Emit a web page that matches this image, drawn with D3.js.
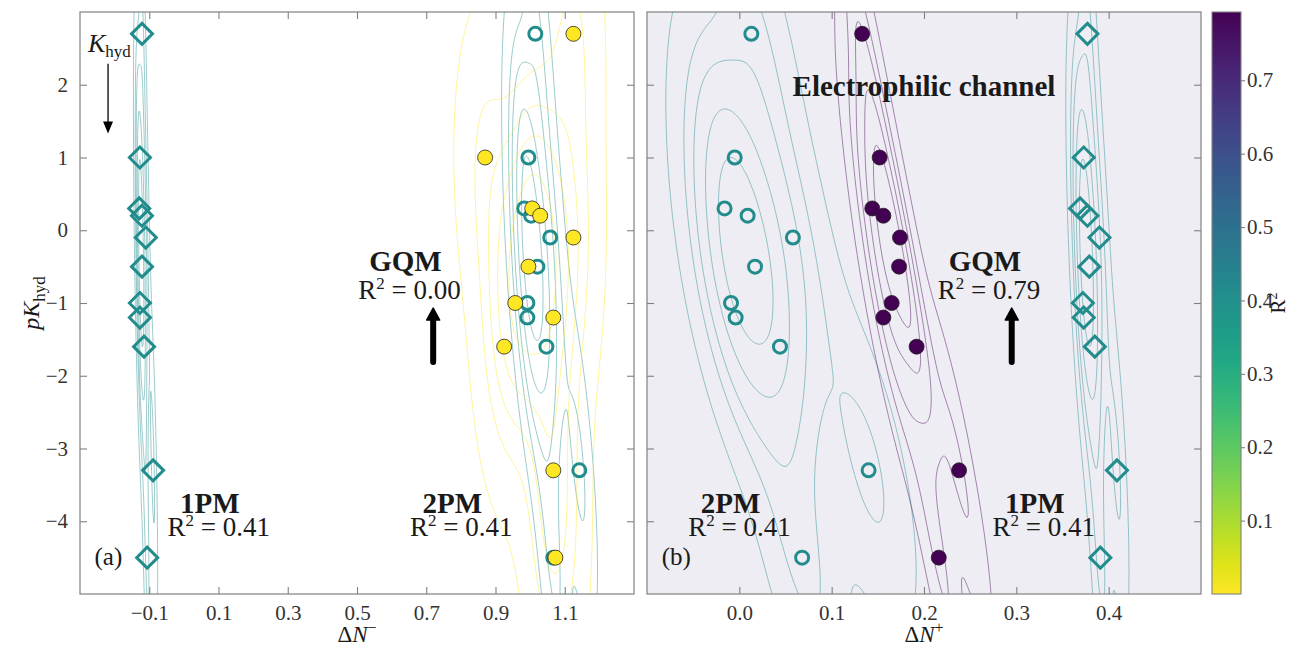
<!DOCTYPE html>
<html lang="en">
<head>
<meta charset="utf-8">
<title>pK_hyd vs Fukui charge transfer</title>
<script src="https://cdnjs.cloudflare.com/ajax/libs/d3/7.8.5/d3.min.js"></script>
<style>
body { margin: 0; background: #fff; }
svg text { font-family: "Liberation Serif", "DejaVu Serif", serif; fill: #1a1a1a; }
.axis path { display: none; }
.axis line { stroke: #808080; stroke-width: 1.1; }
.axis text { font-size: 21px; fill: #333; }
</style>
</head>
<body>
<script>
// pK_hyd of the 11 compounds (same order in every series below)
var pK = [2.7, 1.0, 0.3, 0.2, -0.1, -0.5, -1.0, -1.2, -1.6, -3.3, -4.5];

// panel (a): ΔN- per model
var dNminus_1PM = [-0.121, -0.127, -0.129, -0.121, -0.110, -0.121, -0.127, -0.127, -0.115, -0.089, -0.106];
var dNminus_2PM = [1.015, 0.995, 0.983, 1.003, 1.058, 1.021, 0.992, 0.992, 1.047, 1.142, 1.067];
var dNminus_GQM = [1.125, 0.870, 1.006, 1.029, 1.125, 0.995, 0.957, 1.067, 0.925, 1.067, 1.073];

// panel (b): ΔN+ per model
var dNplus_1PM = [0.377, 0.373, 0.369, 0.377, 0.390, 0.379, 0.372, 0.373, 0.385, 0.409, 0.391];
var dNplus_2PM = [0.013, -0.005, -0.016, 0.009, 0.058, 0.017, -0.009, -0.004, 0.044, 0.140, 0.068];
var dNplus_GQM = [0.133, 0.152, 0.144, 0.156, 0.174, 0.173, 0.165, 0.156, 0.192, 0.238, 0.216];

// R² of each model fit
var r2_1PM = 0.41, r2_2PM = 0.41, r2_GQM_minus = 0.00, r2_GQM_plus = 0.793;

var xTicksA = [-0.1, 0.1, 0.3, 0.5, 0.7, 0.9, 1.1];
var xTicksB = [0.0, 0.1, 0.2, 0.3, 0.4];
var yTicks = [-4, -3, -2, -1, 0, 1, 2];
var cbTicks = [0.1, 0.2, 0.3, 0.4, 0.5, 0.6, 0.7];

var W = 1293, H = 649;
var pTop = 12, pBottom = 594;
var svg = d3.select("body").append("svg").attr("width", W).attr("height", H);

var y = d3.scaleLinear().domain([-5, 3]).range([pBottom, pTop]);
var xA = d3.scaleLinear().domain([-0.3, 1.3]).range([80, 634]);
var xB = d3.scaleLinear().domain([-0.1, 0.5]).range([647, 1201]);

var allR2 = [r2_1PM, r2_2PM, r2_GQM_minus, r2_GQM_plus];
var cdom = d3.extent(allR2);
var color = d3.scaleSequential(function(t) { return d3.interpolateViridis(1 - t); }).domain(cdom);

// gaussian kde (scott bandwidth, full covariance) + iso-proportion contour levels
var nLevels = 6, thresh = 0.05;
function kdeContours(xs, ys) {
  var n = xs.length, mx = d3.mean(xs), my = d3.mean(ys);
  var sxx = 0, syy = 0, sxy = 0;
  for (var i = 0; i < n; i++) {
    var ddx = xs[i] - mx, ddy = ys[i] - my;
    sxx += ddx * ddx; syy += ddy * ddy; sxy += ddx * ddy;
  }
  sxx /= (n - 1); syy /= (n - 1); sxy /= (n - 1);
  var f2 = Math.pow(n, -1 / 3);
  var a = sxx * f2, b = sxy * f2, c = syy * f2;
  var det = a * c - b * b;
  var ia = c / det, ib = -b / det, ic = a / det;
  var bwx = Math.sqrt(a), bwy = Math.sqrt(c);
  var G = 200;
  var x0 = d3.min(xs) - 3 * bwx, x1 = d3.max(xs) + 3 * bwx;
  var y0 = d3.min(ys) - 3 * bwy, y1 = d3.max(ys) + 3 * bwy;
  var sx = (x1 - x0) / (G - 1), sy = (y1 - y0) / (G - 1);
  var vals = new Float64Array(G * G);
  for (var j = 0; j < G; j++) {
    var gy = y0 + j * sy;
    for (var k = 0; k < G; k++) {
      var gx = x0 + k * sx, s = 0;
      for (var p = 0; p < n; p++) {
        var u = gx - xs[p], v = gy - ys[p];
        s += Math.exp(-0.5 * (ia * u * u + 2 * ib * u * v + ic * v * v));
      }
      vals[j * G + k] = s;
    }
  }
  var sorted = Array.from(vals).sort(function(p, q) { return q - p; });
  var total = d3.sum(sorted), cum = new Float64Array(sorted.length), acc = 0;
  for (var m = 0; m < sorted.length; m++) { acc += sorted[m]; cum[m] = acc / total; }
  var th = [];
  for (var l = 0; l < nLevels - 1; l++) {
    var q = thresh + l * (1 - thresh) / (nLevels - 1), target = 1 - q;
    var idx = d3.bisectLeft(cum, target);
    th.push(sorted[Math.min(idx, sorted.length - 1)]);
  }
  var cs = d3.contours().size([G, G]).thresholds(th)(vals);
  return { contours: cs, x0: x0, y0: y0, sx: sx, sy: sy };
}

function drawKde(g, xs, xscale, col) {
  var k = kdeContours(xs, pK);
  var path = d3.geoPath(d3.geoTransform({
    point: function(px, py) {
      this.stream.point(xscale(k.x0 + (px - 0.5) * k.sx), y(k.y0 + (py - 0.5) * k.sy));
    }
  }));
  g.append("g").selectAll("path").data(k.contours).enter().append("path")
    .attr("d", path)
    .attr("fill", "none")
    .attr("stroke", col)
    .attr("stroke-opacity", 0.45)
    .attr("stroke-width", 1);
}

function diamond(r) { return "M0," + (-r) + "L" + r + ",0L0," + r + "L" + (-r) + ",0Z"; }

function panel(id, xscale, xticks, bg, series) {
  var x0 = xscale.range()[0], x1 = xscale.range()[1];
  var g = svg.append("g");
  g.append("rect").attr("x", x0).attr("y", pTop).attr("width", x1 - x0).attr("height", pBottom - pTop).attr("fill", bg);
  svg.append("clipPath").attr("id", "clip" + id).append("rect")
    .attr("x", x0).attr("y", pTop).attr("width", x1 - x0).attr("height", pBottom - pTop);
  var inner = g.append("g").attr("clip-path", "url(#clip" + id + ")");
  series.forEach(function(s) { drawKde(inner, s.x, xscale, color(s.r2)); });
  series.forEach(function(s) {
    var pts = inner.append("g").selectAll("path").data(s.x).enter().append("path")
      .attr("transform", function(d, i) { return "translate(" + xscale(d) + "," + y(pK[i]) + ")"; });
    if (s.kind === "diamond") {
      pts.attr("d", diamond(10.5)).attr("fill", "none").attr("stroke", color(s.r2)).attr("stroke-width", 3);
    } else if (s.kind === "ring") {
      pts.attr("d", d3.symbol().type(d3.symbolCircle).size(Math.PI * 6.5 * 6.5)).attr("fill", "none")
        .attr("stroke", color(s.r2)).attr("stroke-width", 3);
    } else {
      pts.attr("d", d3.symbol().type(d3.symbolCircle).size(Math.PI * 7.5 * 7.5)).attr("fill", color(s.r2))
        .attr("stroke", "#222").attr("stroke-width", 0.8);
    }
  });
  // axes with inward ticks on all four sides
  g.append("g").attr("class", "axis").attr("transform", "translate(0," + pBottom + ")")
    .call(d3.axisBottom(xscale).tickValues(xticks).tickFormat(d3.format(".1f")).tickSizeInner(-7).tickSizeOuter(0).tickPadding(11));
  g.append("g").attr("class", "axis").attr("transform", "translate(0," + pTop + ")")
    .call(d3.axisTop(xscale).tickValues(xticks).tickFormat("").tickSizeInner(-7).tickSizeOuter(0));
  var left = d3.axisLeft(y).tickValues(yTicks).tickSizeInner(-7).tickSizeOuter(0).tickPadding(12);
  if (id !== "a") left.tickFormat("");
  g.append("g").attr("class", "axis").attr("transform", "translate(" + x0 + ",0)").call(left);
  g.append("g").attr("class", "axis").attr("transform", "translate(" + x1 + ",0)")
    .call(d3.axisRight(y).tickValues(yTicks).tickFormat("").tickSizeInner(-7).tickSizeOuter(0));
  g.append("rect").attr("x", x0).attr("y", pTop).attr("width", x1 - x0).attr("height", pBottom - pTop)
    .attr("fill", "none").attr("stroke", "#808080").attr("stroke-width", 1.2);
  return g;
}

var gA = panel("a", xA, xTicksA, "#ffffff", [
  { x: dNminus_2PM, r2: r2_2PM, kind: "ring" },
  { x: dNminus_1PM, r2: r2_1PM, kind: "diamond" },
  { x: dNminus_GQM, r2: r2_GQM_minus, kind: "dot" }
]);
var gB = panel("b", xB, xTicksB, "#eeedf3", [
  { x: dNplus_2PM, r2: r2_2PM, kind: "ring" },
  { x: dNplus_1PM, r2: r2_1PM, kind: "diamond" },
  { x: dNplus_GQM, r2: r2_GQM_plus, kind: "dot" }
]);

// model labels
function modelLabel(g, xscale, name, r2, cx, by, dx2, gap) {
  g.append("text").attr("x", xscale(cx)).attr("y", y(by)).attr("text-anchor", "middle")
    .style("font-size", "29px").style("font-weight", "bold").text(name);
  var t = g.append("text").attr("x", xscale(cx) + dx2).attr("y", y(by) + gap).attr("text-anchor", "middle")
    .style("font-size", "27px");
  t.append("tspan").text("R");
  t.append("tspan").attr("dy", -10).style("font-size", "17px").text("2");
  t.append("tspan").attr("dy", 10).text(" = " + d3.format(".2f")(r2));
}
modelLabel(gA, xA, "1PM", r2_1PM, 0.075, -3.89, 9, 23);
modelLabel(gA, xA, "2PM", r2_2PM, 0.775, -3.89, 9, 23);
modelLabel(gA, xA, "GQM", r2_GQM_minus, 0.64, -0.56, 4, 28);
modelLabel(gB, xB, "2PM", r2_2PM, -0.0095, -3.89, 9, 23);
modelLabel(gB, xB, "1PM", r2_1PM, 0.32, -3.89, 9, 23);
modelLabel(gB, xB, "GQM", r2_GQM_plus, 0.266, -0.56, 4, 28);

gB.append("text").attr("x", xB(0.2)).attr("y", y(1.85)).attr("text-anchor", "middle")
  .style("font-size", "29px").style("font-weight", "bold").text("Electrophilic channel");

gA.append("text").attr("x", xA(-0.258)).attr("y", y(-4.6)).style("font-size", "25px").text("(a)");
gB.append("text").attr("x", xB(-0.084)).attr("y", y(-4.6)).style("font-size", "25px").text("(b)");

// thick arrows pointing to GQM
function bigArrow(g, px) {
  var yb = y(-1.81), yt = y(-1.07);
  g.append("line").attr("x1", px).attr("x2", px).attr("y1", yb).attr("y2", yt + 10)
    .attr("stroke", "#000").attr("stroke-width", 6).attr("stroke-linecap", "round");
  g.append("path").attr("d", "M" + (px - 6.5) + "," + (yt + 12) + "L" + px + "," + yt + "L" + (px + 6.5) + "," + (yt + 12) + "Z")
    .attr("fill", "#000").attr("stroke", "#000").attr("stroke-width", 1.5).attr("stroke-linejoin", "round");
}
bigArrow(gA, xA(0.72));
bigArrow(gB, xB(0.295));

// K_hyd arrow
var kx = xA(-0.219);
gA.append("line").attr("x1", kx).attr("x2", kx).attr("y1", y(2.29)).attr("y2", y(1.45))
  .attr("stroke", "#000").attr("stroke-width", 1.3);
gA.append("path").attr("d", "M" + (kx - 5) + "," + (y(1.33) - 12) + "L" + kx + "," + y(1.33) + "L" + (kx + 5) + "," + (y(1.33) - 12) + "Z")
  .attr("fill", "#000");
var kt = gA.append("text").attr("x", 88).attr("y", 52).style("font-size", "26px");
kt.append("tspan").style("font-style", "italic").text("K");
kt.append("tspan").attr("dy", 5).style("font-size", "17px").text("hyd");

// axis titles
function dN(cx, sign) {
  var t = svg.append("text").attr("x", cx).attr("y", 642).attr("text-anchor", "middle").style("font-size", "23px");
  t.append("tspan").text("Δ");
  t.append("tspan").style("font-style", "italic").text("N");
  t.append("tspan").attr("dy", -9).style("font-size", "16px").text(sign);
}
dN(357, "−");
dN(924, "+");

var yl = svg.append("text").attr("transform", "translate(39,303) rotate(-90)").attr("text-anchor", "middle")
  .style("font-size", "24px");
yl.append("tspan").style("font-style", "italic").text("pK");
yl.append("tspan").attr("dy", 6).style("font-size", "17px").text("hyd");

// colorbar
var cbx0 = 1212, cbx1 = 1241;
var cy = d3.scaleLinear().domain(cdom).range([pBottom, pTop]);
var grad = svg.append("defs").append("linearGradient").attr("id", "cbgrad")
  .attr("x1", 0).attr("y1", 1).attr("x2", 0).attr("y2", 0);
d3.range(0, 1.0001, 0.05).forEach(function(t) {
  grad.append("stop").attr("offset", t).attr("stop-color", color(cdom[0] + t * (cdom[1] - cdom[0])));
});
svg.append("rect").attr("x", cbx0).attr("y", pTop).attr("width", cbx1 - cbx0).attr("height", pBottom - pTop)
  .attr("fill", "url(#cbgrad)").attr("stroke", "#808080").attr("stroke-width", 1.1);
svg.append("g").attr("class", "axis").attr("transform", "translate(" + cbx1 + ",0)")
  .call(d3.axisRight(cy).tickValues(cbTicks).tickFormat(d3.format(".1f")).tickSizeInner(4).tickSizeOuter(0).tickPadding(2));
var cl = svg.append("text").attr("transform", "translate(1285,303) rotate(-90)").attr("text-anchor", "middle")
  .style("font-size", "21px");
cl.append("tspan").text("R");
cl.append("tspan").attr("dy", -8).style("font-size", "14px").text("2");
</script>
</body>
</html>
